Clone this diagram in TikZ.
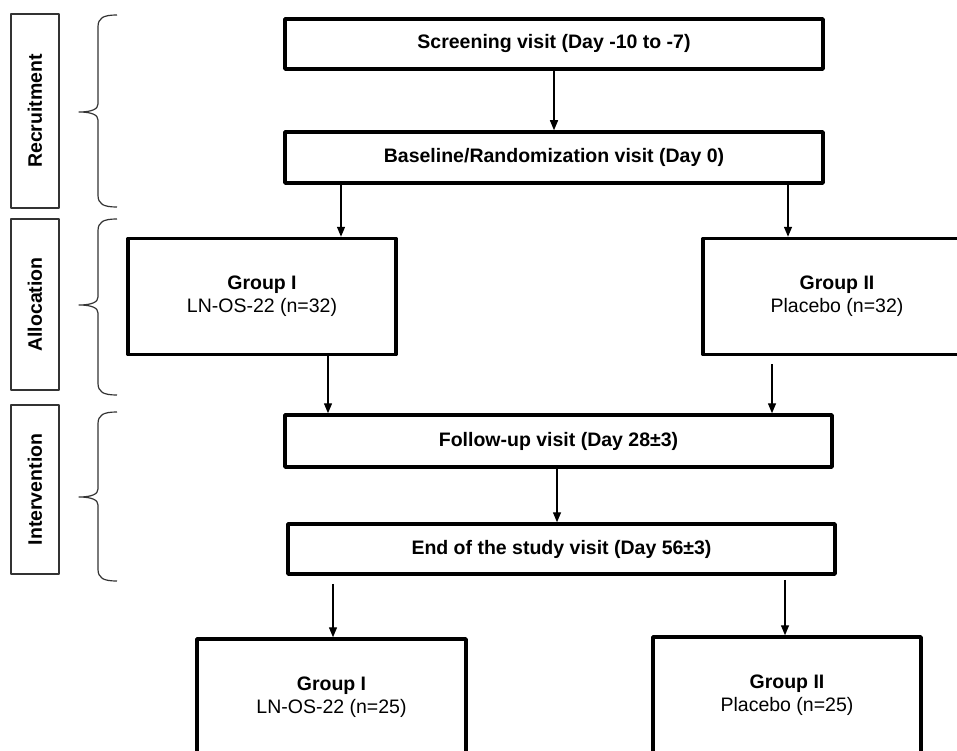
\documentclass[tikz,border=0pt]{standalone}
\usepackage{fontspec}
\setmainfont{Liberation Sans}
\usetikzlibrary{arrows.meta,calc}
\tikzset{
  stage/.style={draw, line width=3.5pt, font=\bfseries, minimum height=50pt, inner sep=0pt},
  grp/.style={draw, line width=3.5pt, align=center, minimum width=268pt, minimum height=116pt, inner sep=0pt},
  phase/.style={draw=black!80, line width=1.2pt, rotate=90, font=\bfseries, minimum height=48pt, inner sep=0pt},
  flow/.style={->, line width=1.4pt},
}
\begin{document}
\begin{tikzpicture}[x=1pt, y=-1pt, line join=round, >={Triangle[length=10pt,width=8pt]}]
  \fontsize{19.5}{23}\selectfont
  \clip (0,0) rectangle (957,751);
  % phases on the left
  \node[phase, minimum width=194pt] (rec) at (35,111) {Recruitment};
  \node[phase, minimum width=171pt] (alloc) at (35,304.5) {Allocation};
  \node[phase, minimum width=169pt] (interv) at (35,489.5) {Intervention};
  \foreach \t/\b/\m in {15/207/112, 219/395/305, 412/581/497}
    \draw[line width=1.2pt, black!80] (117,\t) .. controls (103,\t) and (98,\t+3) .. (98,\t+12)
      -- (98,\m-8) .. controls (98,\m-3) and (92,\m) .. (79,\m)
      .. controls (92,\m) and (98,\m+3) .. (98,\m+8)
      -- (98,\b-12) .. controls (98,\b-3) and (103,\b) .. (117,\b);
  % visits
  \node[stage, minimum width=538pt] (screen) at (554,44) {Screening visit (Day -10 to -7)};
  \node[stage, minimum width=538pt, minimum height=51pt] (base) at (554,157.5) {Baseline/Randomization visit (Day 0)};
  \node[grp] (grpA) at (262,296.5) {\textbf{Group I}\\LN-OS-22 (n=32)};
  \node[grp] (grpB) at (837,296.5) {\textbf{Group II}\\Placebo (n=32)};
  \node[stage, minimum width=547pt, minimum height=52pt] (follow) at (558.5,441) {Follow-up visit (Day 28±3)};
  \node[stage, minimum width=547pt] (endv) at (561.5,549) {End of the study visit (Day 56±3)};
  \node[grp, minimum width=269pt] (finA) at (331.5,697) {\textbf{Group I}\\LN-OS-22 (n=25)};
  \node[grp] (finB) at (787,695) {\textbf{Group II}\\Placebo (n=25)};
  % arrows
  \draw[flow] (screen) -- (base);
  \draw[flow] (341,0 |- base.south) -- (341,0 |- grpA.north);
  \draw[flow] (788,0 |- base.south) -- (788,0 |- grpB.north);
  \draw[flow] (328,0 |- grpA.south) -- (328,0 |- follow.north);
  \draw[flow] ($(772,0 |- grpB.south)+(0,8)$) -- (772,0 |- follow.north);
  \draw[flow] (557,0 |- follow.south) -- (557,0 |- endv.north);
  \draw[flow] ($(333,0 |- endv.south)+(0,8)$) -- (333,0 |- finA.north);
  \draw[flow] ($(785,0 |- endv.south)+(0,4)$) -- (785,0 |- finB.north);
\end{tikzpicture}
\end{document}
